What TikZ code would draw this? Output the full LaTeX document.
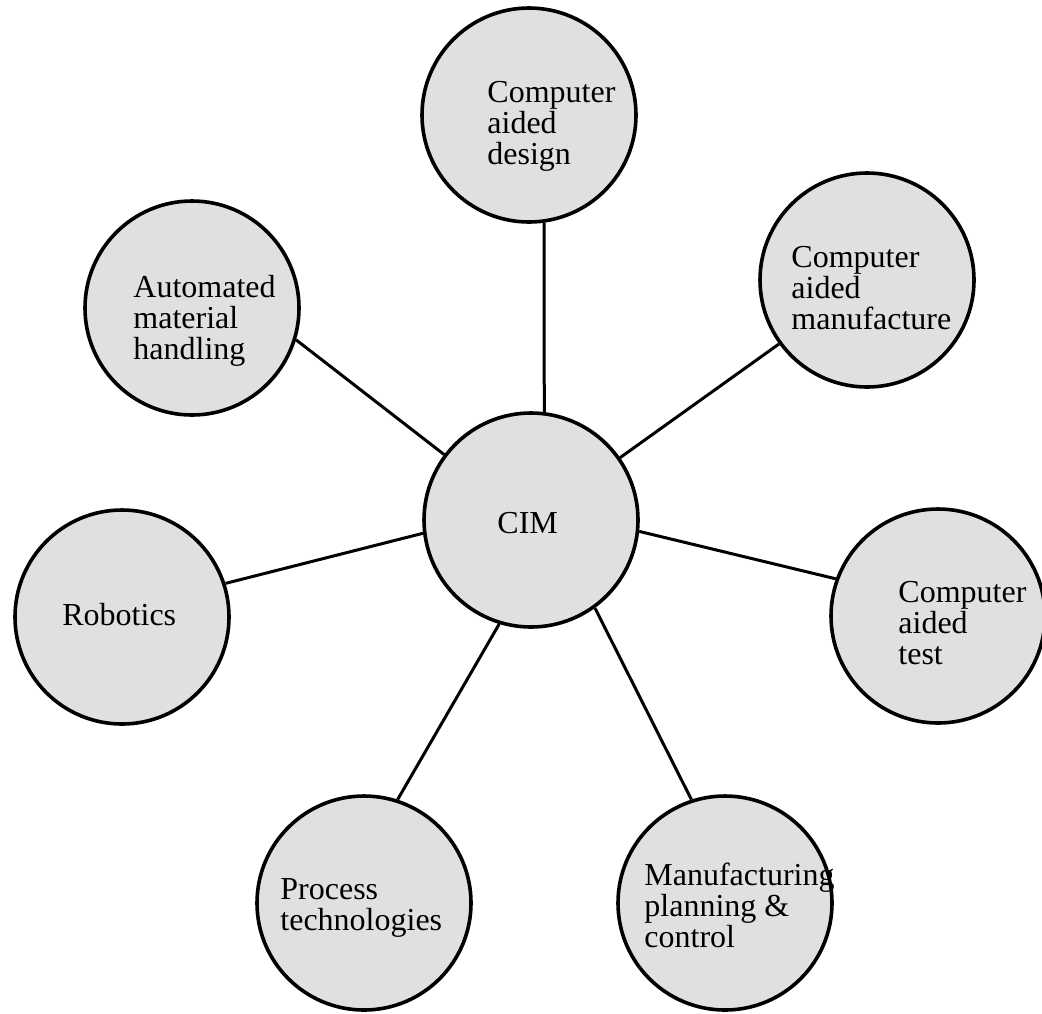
\documentclass[tikz,border=0pt]{standalone}
\usepackage{fontspec}
\setmainfont{Liberation Serif}
\begin{document}
\begin{tikzpicture}[x=0.5pt,y=-0.5pt,
  hub/.style={circle,draw=black,line width=1.8pt,fill=black!12,minimum size=107pt,inner sep=0pt},
  caption/.style={anchor=base west,align=left,inner sep=0pt,font=\fontsize{16pt}{15.5pt}\selectfont},
  link/.style={line width=1.5pt}]
\useasboundingbox (0,0) rectangle (1042,1013);

% circles
\node[hub] (cim) at (531,520) {};
\node[hub] (cad) at (529,115) {};
\node[hub] (cam) at (867,280) {};
\node[hub] (cat) at (938,616) {};
\node[hub] (mpc) at (725,903) {};
\node[hub] (pt)  at (364,903) {};
\node[hub] (rob) at (122,617) {};
\node[hub] (amh) at (192,308) {};

% labels (anchored at the baseline of the last line)
\node[caption] (cim-t) at (497,533) {CIM};
\node[caption] (cad-t) at (487,164) {Computer\\aided\\design};
\node[caption] (cam-t) at (791,329) {Computer\\aided\\manufacture};
\node[caption] (cat-t) at (898,664) {Computer\\aided\\test};
\node[caption] (mpc-t) at (644,947) {Manufacturing\\planning \&\\control};
\node[caption] (pt-t)  at (280,930) {Process\\technologies};
\node[caption] (rob-t) at (62,625)  {Robotics};
\node[caption] (amh-t) at (133,359) {Automated\\material\\handling};

% spokes
\draw[link] (cad.-82.5) -- (cim.83.6);
\draw[link] (cam.216.1) -- (cim.35.6);
\draw[link] (cat.160.6) -- (cim.-6.2);
\draw[link] (mpc.108.4) -- (cim.-54.7);
\draw[link] (pt.72.2)   -- (cim.-107.5);
\draw[link] (rob.18)    -- (cim.187.3);
\draw[link] (amh.-17.6) -- (cim.143.9);
\end{tikzpicture}
\end{document}
